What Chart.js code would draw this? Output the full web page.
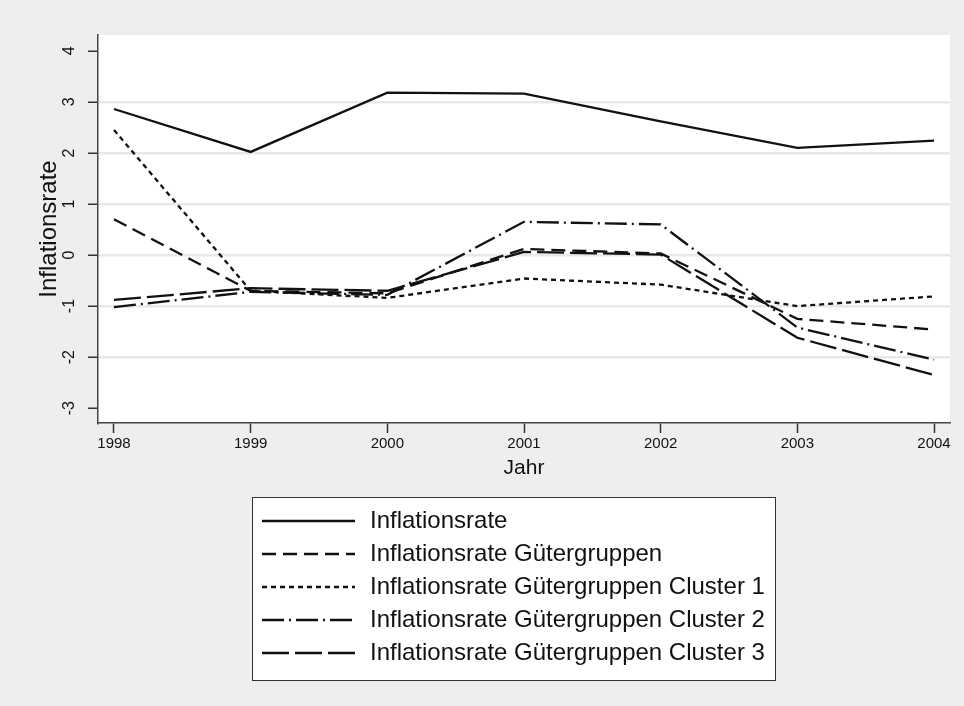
<!DOCTYPE html>
<html>
<head>
<meta charset="utf-8">
<script src="https://cdn.jsdelivr.net/npm/chart.js@4"></script>
<style>
  html, body { margin: 0; padding: 0; background: #eeeeee; }
  #wrap { width: 964px; height: 706px; }
</style>
</head>
<body>
<div id="wrap"><canvas id="inflChart" width="964" height="706"></canvas></div>
<script>
// Jahre auf der x-Achse
const years = [1998, 1999, 2000, 2001, 2002, 2003, 2004];

// Inflationsraten je Reihe
const inflationsrate = [2.86, 2.02, 3.18, 3.16, 2.62, 2.10, 2.24];
const gueterGruppen = [0.70, -0.70, -0.75, 0.12, 0.03, -1.25, -1.46];
const cluster1 = [2.45, -0.70, -0.84, -0.46, -0.58, -1.00, -0.81];
const cluster2 = [-1.02, -0.72, -0.78, 0.65, 0.60, -1.42, -2.05];
const cluster3 = [-0.88, -0.65, -0.70, 0.06, 0.01, -1.62, -2.35];

const seriesLabels = [
  "Inflationsrate",
  "Inflationsrate Gütergruppen",
  "Inflationsrate Gütergruppen Cluster 1",
  "Inflationsrate Gütergruppen Cluster 2",
  "Inflationsrate Gütergruppen Cluster 3"
];

const yTicks = [-3, -2, -1, 0, 1, 2, 3, 4];

const FONT = "'Liberation Sans', Arial, Helvetica, sans-serif";
const INK = "#111111";

function toPoints(values) {
  return values.map((v, i) => ({ x: years[i], y: v }));
}

const dashes = [[], [14, 7], [5, 4], [22, 5, 2, 5], [27, 6]];
const seriesValues = [inflationsrate, gueterGruppen, cluster1, cluster2, cluster3];

const datasets = seriesValues.map((vals, i) => ({
  label: seriesLabels[i],
  data: toPoints(vals),
  borderColor: INK,
  backgroundColor: INK,
  borderWidth: 2.3,
  borderDash: dashes[i],
  pointRadius: 0,
  tension: 0,
  fill: false
}));

// Hintergrund: grauer Grafikbereich, weisser Plotbereich
const backgroundPlugin = {
  id: "stataBackground",
  beforeDraw(chart) {
    const { ctx, chartArea } = chart;
    ctx.save();
    ctx.fillStyle = "#eeeeee";
    ctx.fillRect(0, 0, chart.width, chart.height);
    ctx.fillStyle = "#ffffff";
    ctx.fillRect(chartArea.left, chartArea.top, chartArea.right - chartArea.left, chartArea.bottom - chartArea.top);
    ctx.restore();
  }
};

// Legende im Kasten unter der Grafik, ein Eintrag pro Zeile
const boxLegendPlugin = {
  id: "boxLegend",
  afterDraw(chart) {
    const { ctx } = chart;
    const box = { x: 252, y: 497, w: 523, h: 183 };
    ctx.save();
    ctx.fillStyle = "#ffffff";
    ctx.fillRect(box.x, box.y, box.w, box.h);
    ctx.strokeStyle = "#333333";
    ctx.lineWidth = 1;
    ctx.strokeRect(box.x + 0.5, box.y + 0.5, box.w, box.h);

    chart.data.datasets.forEach((ds, i) => {
      const cy = 521 + i * 33;
      ctx.beginPath();
      ctx.setLineDash(ds.borderDash || []);
      ctx.lineWidth = 2.3;
      ctx.strokeStyle = ds.borderColor;
      ctx.moveTo(262, cy);
      ctx.lineTo(355, cy);
      ctx.stroke();
      ctx.setLineDash([]);
      ctx.fillStyle = INK;
      ctx.font = "24px " + FONT;
      ctx.textBaseline = "middle";
      ctx.textAlign = "left";
      ctx.fillText(ds.label, 370, cy);
    });
    ctx.restore();
  }
};

const ctx = document.getElementById("inflChart").getContext("2d");

const inflChart = new Chart(ctx, {
  type: "line",
  data: { datasets },
  options: {
    responsive: false,
    animation: false,
    layout: { padding: { left: 0, top: 35, right: 14, bottom: 224 } },
    plugins: {
      legend: { display: false },
      tooltip: { enabled: false }
    },
    scales: {
      x: {
        type: "linear",
        min: 1997.883,
        max: 2004.117,
        afterBuildTicks(axis) {
          axis.ticks = years.map(v => ({ value: v }));
        },
        afterFit(axis) { axis.height = 59; },
        ticks: {
          color: INK,
          font: { family: FONT, size: 15 },
          padding: 2,
          maxRotation: 0,
          callback: v => String(v)
        },
        grid: {
          drawOnChartArea: false,
          drawTicks: true,
          tickLength: 10,
          tickColor: "#333333",
          tickWidth: 1.5
        },
        border: { display: true, color: "#444444", width: 1.5 },
        title: {
          display: true,
          text: "Jahr",
          color: INK,
          font: { family: FONT, size: 21 },
          padding: { top: 0, bottom: 1 }
        }
      },
      y: {
        type: "linear",
        min: -3.29,
        max: 4.31,
        afterBuildTicks(axis) {
          axis.ticks = yTicks.map(v => ({ value: v }));
        },
        afterFit(axis) { axis.width = 98; },
        ticks: {
          color: INK,
          font: { family: FONT, size: 16 },
          minRotation: 90,
          maxRotation: 90,
          crossAlign: "center",
          padding: 11,
          callback: v => String(v)
        },
        grid: {
          drawOnChartArea: true,
          drawTicks: true,
          tickLength: 10,
          tickColor: "#333333",
          tickWidth: 1.5,
          lineWidth: 2.5,
          color: c => (c.tick && (c.tick.value === 4 || c.tick.value === -3)) ? "rgba(0,0,0,0)" : "#e8e8e8"
        },
        border: { display: true, color: "#444444", width: 1.5 },
        title: {
          display: true,
          text: "Inflationsrate",
          color: INK,
          font: { family: FONT, size: 24 },
          padding: { top: 35, bottom: 0 }
        }
      }
    }
  },
  plugins: [backgroundPlugin, boxLegendPlugin]
});
</script>
</body>
</html>
